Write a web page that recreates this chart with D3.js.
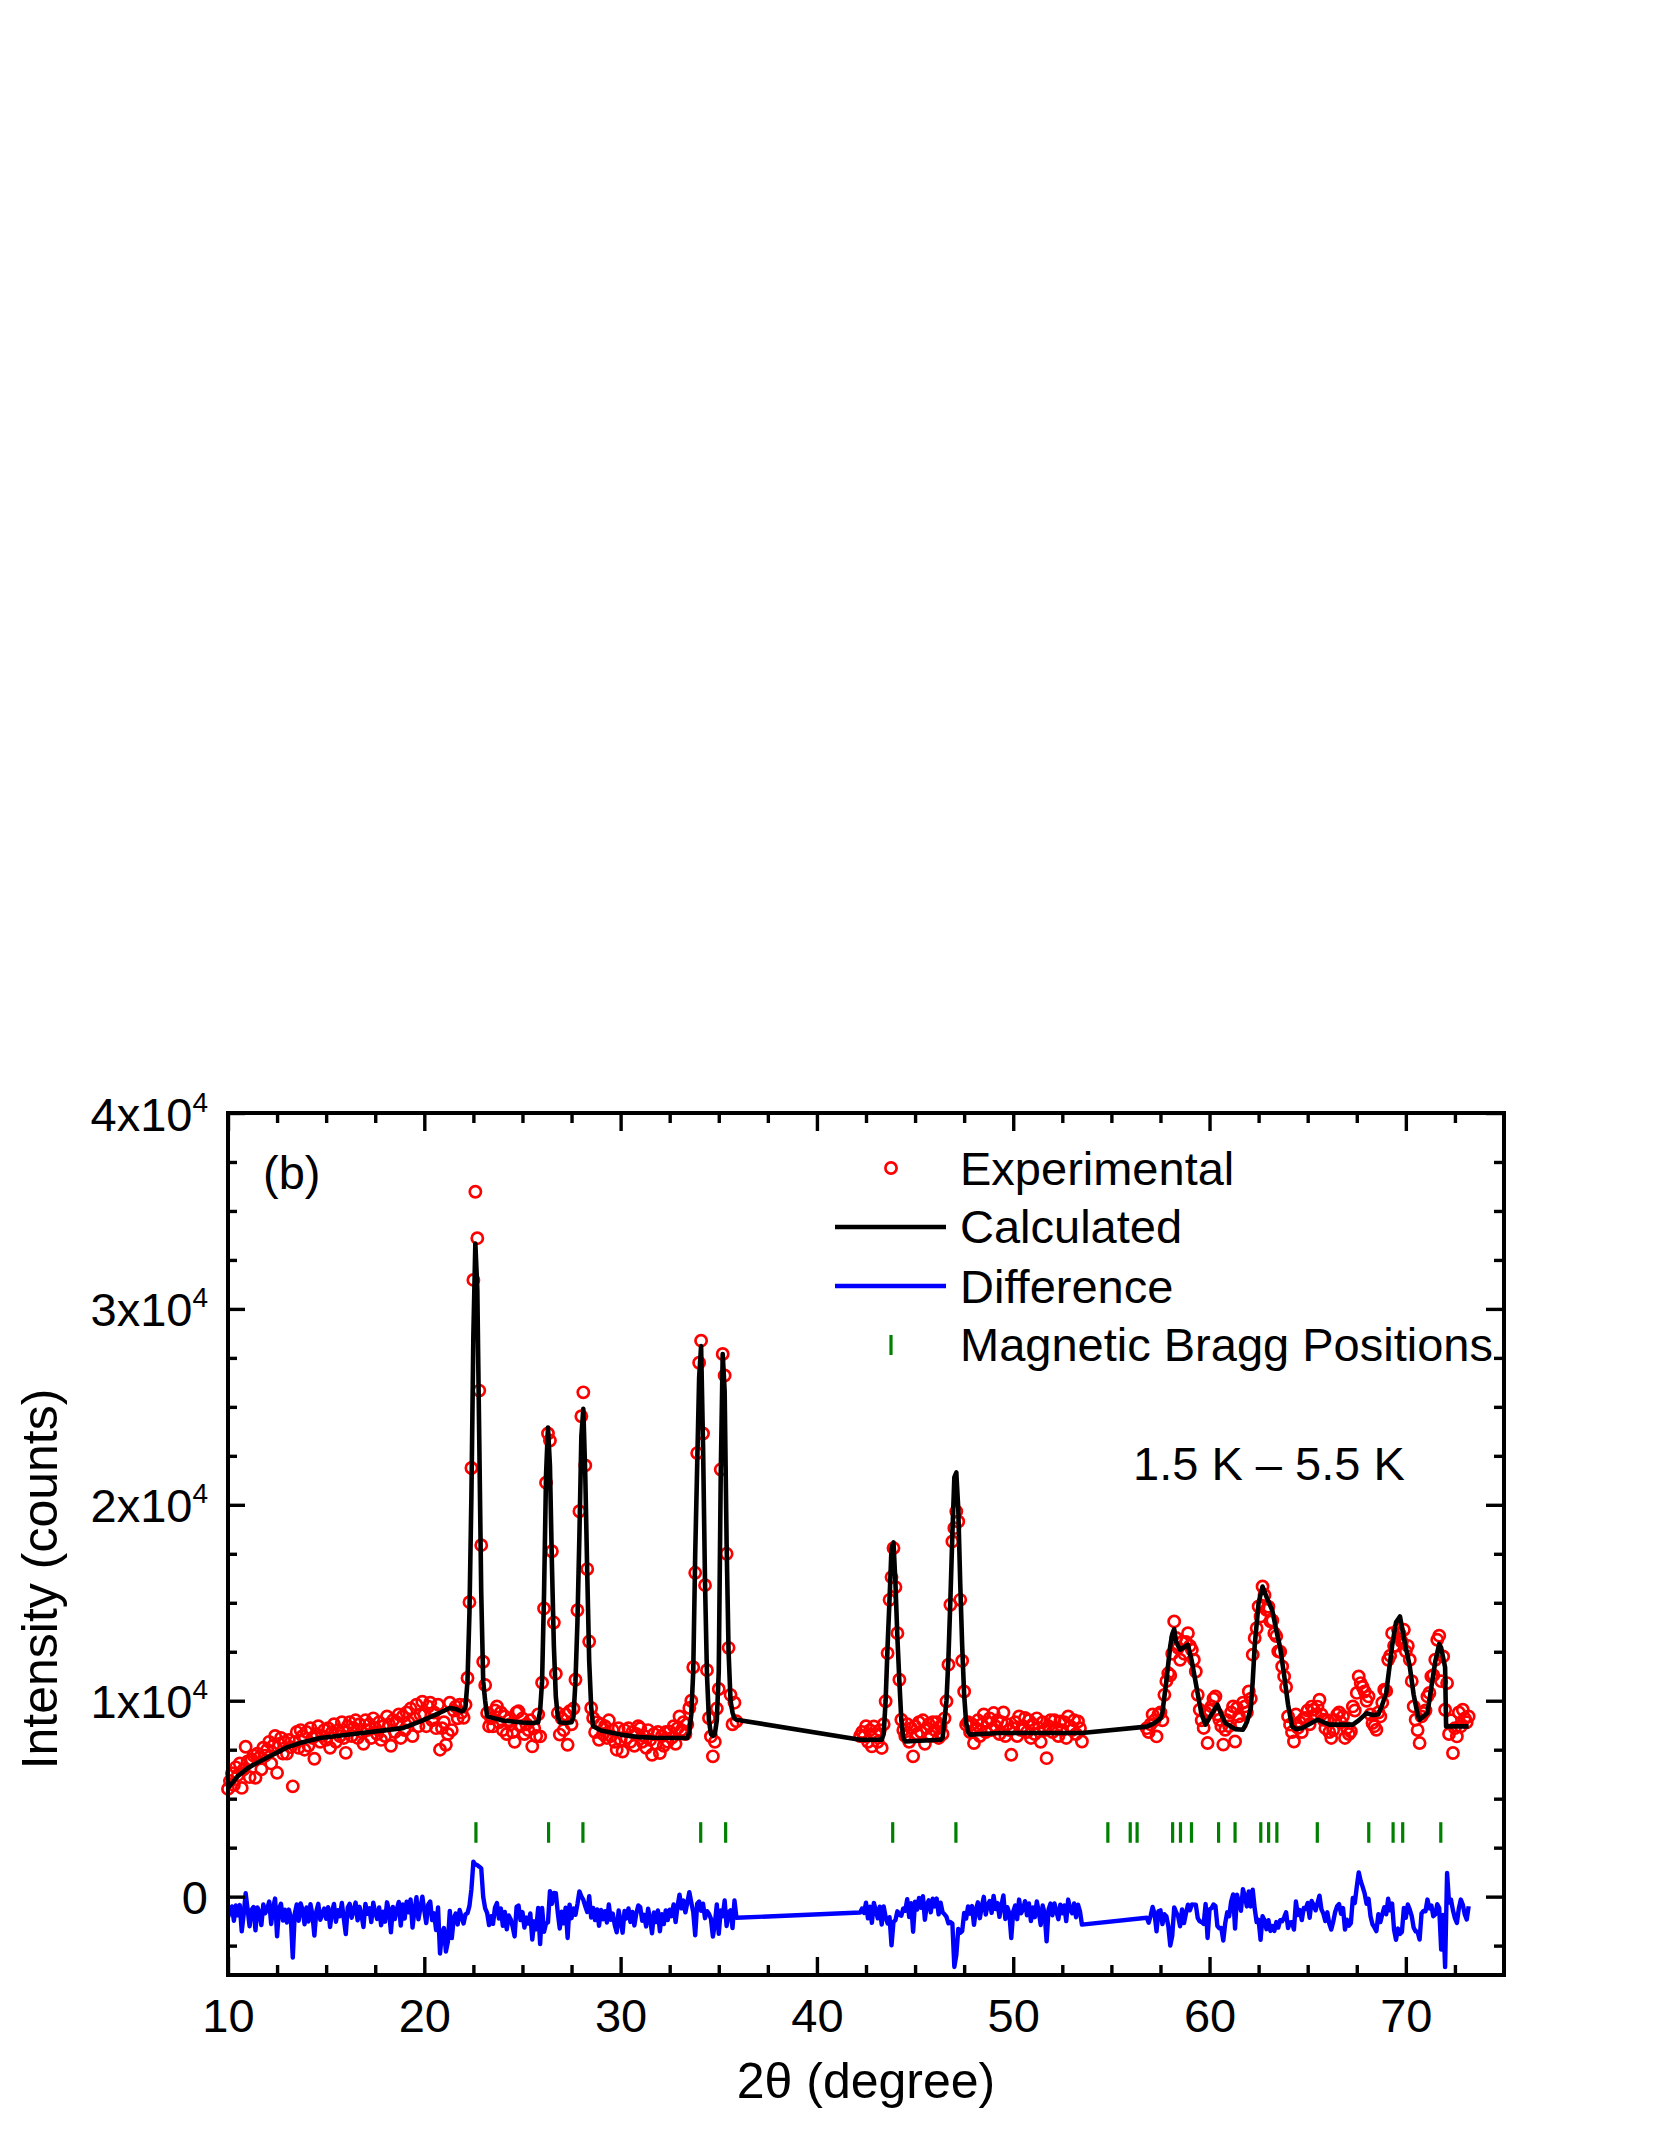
<!DOCTYPE html>
<html>
<head>
<meta charset="utf-8">
<script src="https://cdn.jsdelivr.net/npm/d3@7"></script>
<style>
  body { margin: 0; background: #fff; }
  svg { display: block; font-family: 'Liberation Sans', Arial, sans-serif; }
</style>
</head>
<body>
<svg id="chart"></svg>
<script>
// neutron powder pattern, 1.5 K - 5.5 K difference data
// three measured ranges, constant 2theta step
var scanStep = 0.1
var startA = 10.0
var startB = 42.2
var startC = 56.8

var expA = [
  5500, 5900, 6300, 5700, 6600, 6200, 6800, 5550, 6500, 7650,
  6900, 6100, 7000, 7200, 6070, 7300, 7100, 6500, 7600, 7200,
  7500, 7900, 6800, 7700, 8200, 6320, 7800, 8100, 7300, 7900,
  7300, 8000, 7630, 5630, 7900, 8400, 7600, 8500, 8200, 7500,
  8400, 7700, 8600, 8100, 7040, 8300, 8700, 7900, 8200, 8500,
  8000, 8600, 7600, 8400, 8800, 7900, 8500, 8200, 8900, 8100,
  7340, 8700, 8900, 8200, 8600, 9000, 8100, 8800, 8400, 7800,
  9000, 8500, 8800, 8100, 9100, 8600, 8300, 8900, 8000, 8700,
  8200, 9200, 8800, 7700, 9000, 8400, 8900, 9300, 8100, 9200,
  8500, 9400, 8900, 9600, 8200, 9100, 9800, 8700, 9300, 9950,
  9300, 8700, 9700, 9900, 9000, 9400, 8600, 9800, 7500, 8600,
  8900, 7750, 8300, 9900, 8500, 9500, 9700, 9100, 9800, 9400,
  9130, 9800, 11160, 15030, 21880, 31480, 35980, 33610, 25830, 17940,
  11990, 10800, 9370, 8700, 9100, 8690, 9500, 9710, 8900, 9400,
  8500, 9200, 8300, 9000, 8800, 8400, 7900, 9400, 9460, 8700,
  9100, 8300, 8800, 8500, 9000, 7670, 8600, 8200, 9300, 8180,
  10920, 14710, 21130, 23640, 23280, 17630, 13990, 11380, 9370, 8270,
  9100, 8500, 9300, 7750, 9460, 8800, 9600, 11070, 14620, 19670,
  24520, 25740, 22010, 16720, 13020, 9630, 9120, 8400, 8900, 8010,
  8800, 8300, 8700, 8100, 9000, 8200, 8500, 7900, 7500, 8600,
  8000, 7410, 8500, 8100, 8600, 7900, 8400, 7700, 8300, 8700,
  8600, 7900, 8200, 7600, 8500, 8000, 7240, 8300, 7800, 8400,
  7330, 8200, 7700, 8400, 7900, 8430, 8100, 8700, 7800, 8600,
  9200, 8500, 8900, 8300, 8800, 9630, 10000, 11710, 16530, 22640,
  27250, 28380, 23640, 15900, 11560, 9120, 8180, 7160, 7900, 9600,
  10600, 21800, 27700, 26600, 17500, 12700, 10300, 8800, 9900, 8950
]

var expB = [
  8200, 8400, 8180, 8700, 7900, 8500, 7670, 8690,
  8300, 7900, 8500, 7590, 8800, 9970, 12430, 15150, 16310, 17790,
  15800, 13450, 11070, 9030, 8500, 8200, 8800, 7900, 8600, 7160,
  8700, 8300, 8900, 8400, 9000, 7800, 8600, 8800, 8200, 8900,
  8500, 8900, 8100, 8700, 8300, 9100, 9970, 11840, 14900, 18130,
  18810, 19660, 19150, 15150, 12040, 10470, 8780, 8900, 8400, 8800,
  7840, 8600, 9000, 8200, 8800, 9300, 8400, 8900, 9100, 8500,
  9370, 8700, 9000, 8300, 8900, 9400, 8200, 8800, 8500, 7240,
  8600, 8900, 8200, 9200, 8500, 8700, 9120, 8400, 9000, 8100,
  8800, 8300, 9100, 8600, 7900, 8900, 8500, 7070, 8700, 9000,
  8400, 9000, 8600, 8200, 8940, 8500, 8900, 8100, 9200, 8700,
  8500, 9000, 8300, 8940, 8600, 7920
]

var expC = [
  8600, 8400,
  8800, 9300, 9000, 8180, 9300, 9400, 9000, 10300, 11000, 11400,
  11300, 12400, 14050, 13200, 12700, 12090, 13000, 12400, 13000, 13450,
  12800, 12600, 12090, 11490, 10300, 9540, 9000, 8610, 9400, 7840,
  9500, 9710, 10100, 10220, 9300, 9030, 8700, 7760, 8520, 9000,
  8700, 9400, 9710, 7920, 9630, 9200, 8800, 9900, 9710, 9400,
  10470, 10100, 12350, 13200, 13700, 14810, 14300, 15830, 15400, 14640,
  14800, 14050, 14100, 13450, 13300, 12520, 12500, 11750, 11240, 10700,
  9200, 8780, 8400, 7920, 9300, 8610, 8900, 8400, 9100, 9120,
  9500, 8800, 9700, 9540, 9300, 9700, 10050, 9300, 9030, 8600,
  9000, 8400, 8100, 8500, 9000, 9290, 9400, 8900, 9200, 8100,
  8600, 8300, 8430, 9710, 9500, 10400, 11240, 10900, 10700, 10470,
  10000, 10220, 9300, 8860, 8700, 8520, 9400, 9200, 9900, 10560,
  10500, 12090, 12300, 13450, 12800, 12800, 13620, 13400, 13000, 13620,
  12520, 12800, 12090, 11000, 9710, 9030, 8500, 7840, 9200, 9370,
  9500, 10220, 10400, 11240, 11300, 12090, 13110, 13320, 11000, 12260,
  9540, 10900, 8300, 9000, 7330, 8600, 8180, 9400, 8690, 9540,
  9100, 8900, 9200
]

// difference curve (obs - calc, shifted down by 1000)
var diffA = [
  -1050, -780, -500, -1230, -450, -950, -430, -1770, -900, 170,
  -650, -1510, -670, -530, -1720, -550, -800, -1450, -400, -850,
  -600, -250, -1400, -550, -100, -2030, -600, -360, -1220, -670,
  -1320, -660, -1070, -3110, -880, -400, -1230, -350, -680, -1410,
  -550, -1270, -390, -910, -1990, -750, -365, -1180, -900, -610,
  -1130, -540, -1550, -760, -370, -1280, -690, -1000, -320, -1130,
  -1910, -560, -370, -1080, -690, -300, -1210, -520, -940, -1550,
  -370, -880, -590, -1300, -310, -830, -1140, -550, -1460, -770,
  -1280, -290, -700, -1820, -530, -1140, -650, -270, -1480, -400,
  -1120, -260, -800, -140, -1580, -700, -30, -1160, -600, 0,
  -700, -1350, -400, -250, -1200, -850, -1700, -550, -2900, -1850,
  -1600, -2800, -2300, -730, -2120, -1100, -860, -1420, -680, -1050,
  -1370, -900, -840, -470, 380, 1780, 1640, 1610, 1530, 1440,
  -10, -600, -830, -1450, -1000, -1390, -560, -330, -1120, -600,
  -1490, -780, -1670, -960, -1150, -1540, -2030, -520, -450, -1200,
  -790, -1580, -1070, -1370, -860, -2190, -1260, -1670, -580, -2420,
  -580, -1790, -1370, -1310, 280, -370, 190, 180, -830, -1630,
  -770, -1360, -560, -2110, -410, -1100, -600, -930, -380, 270,
  20, -160, -490, -780, 20, -1070, -580, -1200, -650, -1490,
  -680, -1160, -740, -1320, -400, -1180, -860, -1440, -1820, -700,
  -1270, -1840, -730, -1110, -600, -1290, -780, -1470, -860, -450,
  -540, -1230, -930, -1520, -620, -1110, -1870, -810, -1300, -700,
  -1770, -900, -1400, -700, -1200, -670, -1000, -400, -1300, -500,
  100, -600, -200, -800, -300, 230, -300, -790, -1970, -360,
  -250, -720, -360, -1100, -740, -880, -1120, -2040, -1400, -400,
  -1900, -700, -1000, -200, -1500, -800, -700, -1600, -200, -1080
]

var diffB = [
  -810, -610, -830, -310, -1110, -510, -1340, -320,
  -710, -1110, -510, -1420, -500, -1030, -1370, -1050, -2490, -1290,
  -1200, -750, -930, -970, -600, -720, -130, -1040, -340, -1790,
  -260, -660, -70, -570, 20, -1180, -390, -190, -800, -100,
  -500, -100, -905, -310, -800, -900, -1030, -1360, -1300, -1370,
  -3590, -2990, -1650, -1850, -1760, -830, -1120, -500, -870, -480,
  -1440, -690, -290, -1100, -500, -10, -910, -420, -220, -830,
  40, -630, -330, -1030, -430, 60, -1140, -540, -840, -2110,
  -750, -450, -1150, -150, -850, -650, -230, -950, -350, -1250,
  -550, -1050, -250, -750, -1450, -450, -850, -2280, -650, -350,
  -950, -350, -750, -1150, -410, -850, -450, -1250, -150, -650,
  -850, -350, -1050, -410, -750, -1430
]

var diffC = [
  -1080, -1330,
  -980, -530, -860, -1770, -750, -700, -1400, -900, -1000, -1500,
  -2500, -2000, -550, -800, -1000, -1510, -650, -1350, -850, -410,
  -700, -400, -410, -410, -1100, -1260, -1300, -1390, -380, -2110,
  -650, -590, -400, -480, -1500, -1620, -1600, -2240, -1350, -800,
  -1000, -250, 110, -1630, 100, -320, -720, 380, 10, -500,
  270, -500, 350, -600, -1300, -1190, -2200, -1000, -1200, -1660,
  -1200, -1750, -1500, -1750, -1300, -1580, -1200, -1250, -1060, -800,
  -1600, -1320, -1300, -1680, -250, -940, -680, -1200, -580, -630,
  -320, -1080, -220, -420, -700, -330, 50, -650, -870, -1250,
  -800, -1380, -1680, -1280, -780, -490, -380, -880, -580, -1680,
  -1180, -1480, -1350, -70, -330, 500, 1240, 800, 500, 170,
  -370, -110, -1000, -1410, -1570, -1760, -900, -1300, -900, -540,
  -900, -110, -700, -350, -1700, -2200, -1630, -1900, -1800, -580,
  -1080, -400, -660, -1000, -1590, -1770, -1800, -2190, -850, -730,
  -750, -150, -600, -460, -1000, -910, -390, -580, -2700, -940,
  -3600, 1210, -300, -150, -700, -1100, -1340, -600, -150, -400,
  -900, -1170, -490
]

// calculated profile, [2theta, counts]
var calcA = [
  [10.0, 5550], [10.5, 6150], [11.0, 6550], [11.3, 6730], [12.0, 7100], [12.5, 7350],
  [13.0, 7620], [13.7, 7850], [14.7, 8100], [16.4, 8300], [18.9, 8600], [19.8, 8950],
  [20.5, 9250], [21.3, 9630], [21.6, 9580], [21.9, 9450], [22.0, 9500], [22.1, 9700],
  [22.2, 11000], [22.3, 14500], [22.4, 20500], [22.5, 28700], [22.6, 33340], [22.7, 31000],
  [22.8, 23300], [22.9, 15500], [23.0, 11000], [23.1, 10000], [23.2, 9200], [24.0, 8990],
  [25.0, 8890], [25.5, 8860], [25.8, 8900], [25.9, 9500], [26.0, 11000], [26.1, 15500],
  [26.2, 21500], [26.3, 23950], [26.4, 22000], [26.5, 17000], [26.6, 12800], [26.7, 10200],
  [26.8, 9200], [26.9, 8900], [27.2, 8860], [27.5, 8900], [27.6, 9200], [27.7, 11000],
  [27.8, 14000], [27.9, 18400], [28.0, 23500], [28.1, 24900], [28.2, 21500], [28.3, 16500],
  [28.4, 12000], [28.5, 9700], [28.6, 8700], [29.0, 8480], [30.0, 8270], [31.0, 8140],
  [31.7, 8110], [33.4, 8100], [33.5, 8400], [33.6, 9300], [33.7, 11500], [33.8, 17500],
  [33.9, 22000], [34.0, 26500], [34.1, 28100], [34.2, 23000], [34.3, 16000], [34.4, 11300],
  [34.5, 9000], [34.6, 8300], [34.7, 8200], [34.8, 8300], [34.9, 9000], [35.0, 11500],
  [35.1, 21500], [35.2, 27700], [35.3, 25800], [35.4, 18000], [35.5, 12500], [35.6, 10000],
  [35.7, 9400], [35.8, 9100], [35.9, 9030]
]

var calcB = [
  [42.2, 8010], [43.3, 8010], [43.4, 8300], [43.5, 10000], [43.6, 12800], [43.7, 15200],
  [43.8, 17800], [43.9, 18080], [44.0, 16000], [44.1, 13200], [44.2, 11000], [44.3, 9000],
  [44.4, 8100], [44.5, 7920], [46.3, 8010], [46.4, 8100], [46.5, 9000], [46.6, 10000],
  [46.7, 12200], [46.8, 15200], [46.9, 18500], [47.0, 21400], [47.1, 21650], [47.2, 19800],
  [47.3, 16000], [47.4, 12800], [47.5, 10300], [47.6, 8900], [47.7, 8400], [47.8, 8270],
  [49.3, 8350], [53.5, 8350]
]

var calcC = [
  [56.8, 8680], [57.2, 8860], [57.5, 9100], [57.6, 9400], [57.8, 11000], [58.0, 12800],
  [58.1, 13400], [58.2, 13650], [58.3, 13000], [58.5, 12600], [58.9, 12860], [59.1, 12000],
  [59.3, 10900], [59.5, 9800], [59.6, 9300], [59.8, 8780], [60.1, 9300], [60.4, 9800],
  [60.6, 9300], [60.8, 8870], [61.3, 8550], [61.7, 8520], [61.9, 8900], [62.1, 9600],
  [62.2, 11000], [62.3, 12800], [62.5, 15000], [62.7, 15830], [62.9, 15300], [63.2, 14600],
  [63.4, 13600], [63.6, 12700], [63.8, 11300], [64.0, 9800], [64.2, 8700], [64.4, 8550],
  [64.7, 8600], [65.5, 9030], [66.1, 8780], [67.3, 8780], [67.6, 9000], [68.0, 9370],
  [68.3, 9270], [68.6, 9300], [68.8, 9800], [69.0, 10400], [69.3, 12800], [69.5, 14000],
  [69.7, 14300], [69.9, 13200], [70.2, 11750], [70.4, 10300], [70.6, 9300], [70.7, 9030],
  [71.1, 9370], [71.3, 10700], [71.5, 12000], [71.7, 12900], [71.8, 12700], [72.0, 11700],
  [72.05, 8690], [73.2, 8690]
]

var braggPositions = [
  22.63, 26.33, 28.08, 34.08, 35.35, 43.86, 47.08, 54.82, 55.96, 56.31, 58.12, 58.52,
  59.08, 60.46, 61.30, 62.61, 63.01, 63.43, 65.49, 68.11, 69.35, 69.84, 71.78
]
var braggTick = [2750, 3800]

var xMajor = [10, 20, 30, 40, 50, 60, 70]
var xMinor = [12.5, 15, 17.5, 22.5, 25, 27.5, 32.5, 35, 37.5, 42.5, 45, 47.5, 52.5, 55, 57.5, 62.5, 65, 67.5, 72.5]
var yMajor = [0, 10000, 20000, 30000, 40000]
var yMinor = [-2500, 2500, 5000, 7500, 12500, 15000, 17500, 22500, 25000, 27500, 32500, 35000, 37500]

var legendItems = ['Experimental', 'Calculated', 'Difference', 'Magnetic Bragg Positions']

// pair each scan value with its 2theta
function scan (start, values) {
  return values.map(function (v, i) { return [+(start + i * scanStep).toFixed(2), v] })
}

var experimental = scan(startA, expA).concat(scan(startB, expB), scan(startC, expC))
var difference = scan(startA, diffA).concat(scan(startB, diffB), scan(startC, diffC))
var calculated = calcA.concat(calcB, calcC)

// set the dimensions and margins of the graph
var W = 1661
var H = 2149
var margin = {top: 1113, right: 157, bottom: 174, left: 228}
var width = W - margin.left - margin.right
var height = H - margin.top - margin.bottom

var x = d3.scaleLinear().domain([10, 75]).range([0, width])
var y = d3.scaleLinear().domain([-4000, 40000]).range([height, 0])

var svg = d3.select('#chart')
    .attr('width', W)
    .attr('height', H)

svg.append('rect').attr('width', W).attr('height', H).attr('fill', '#fff')

var g = svg.append('g')
    .attr('transform', 'translate(' + margin.left + ',' + margin.top + ')')

// experimental points
g.append('g')
  .selectAll('circle')
    .data(experimental)
  .enter().append('circle')
    .attr('cx', function (d) { return x(d[0]) })
    .attr('cy', function (d) { return y(d[1]) })
    .attr('r', 5.6)
    .attr('fill', 'none')
    .attr('stroke', '#ff0000')
    .attr('stroke-width', 2.7)

var line = d3.line()
    .x(function (d) { return x(d[0]) })
    .y(function (d) { return y(d[1]) })

// calculated profile
g.append('path')
    .datum(calculated)
    .attr('d', line)
    .attr('fill', 'none')
    .attr('stroke', '#000')
    .attr('stroke-width', 4.6)
    .attr('stroke-linejoin', 'round')

// difference
g.append('path')
    .datum(difference)
    .attr('d', line)
    .attr('fill', 'none')
    .attr('stroke', '#0000ff')
    .attr('stroke-width', 4.4)
    .attr('stroke-linejoin', 'round')

// bragg positions
g.append('g')
  .selectAll('line')
    .data(braggPositions)
  .enter().append('line')
    .attr('x1', function (d) { return x(d) })
    .attr('x2', function (d) { return x(d) })
    .attr('y1', y(braggTick[0]))
    .attr('y2', y(braggTick[1]))
    .attr('stroke', '#008000')
    .attr('stroke-width', 3.2)

// axes: ticks point inward on all four sides
function styleAxis (sel) {
  sel.select('.domain').remove()
  sel.selectAll('.tick line').attr('stroke', '#000').attr('stroke-width', 3.4)
}

g.append('g')
    .attr('transform', 'translate(0,' + height + ')')
    .call(d3.axisBottom(x).tickValues(xMajor).tickSize(-18).tickFormat(d3.format('d')))
    .call(styleAxis)
    .call(function (s) {
      s.selectAll('.tick text')
        .attr('y', 57).attr('dy', null)
        .attr('font-size', 47).attr('font-family', 'Liberation Sans, Arial, sans-serif').attr('fill', '#000')
    })
g.append('g')
    .attr('transform', 'translate(0,' + height + ')')
    .call(d3.axisBottom(x).tickValues(xMinor).tickSize(-10).tickFormat(''))
    .call(styleAxis)
g.append('g')
    .call(d3.axisTop(x).tickValues(xMajor).tickSize(-18).tickFormat(''))
    .call(styleAxis)
g.append('g')
    .call(d3.axisTop(x).tickValues(xMinor).tickSize(-10).tickFormat(''))
    .call(styleAxis)

g.append('g')
    .call(d3.axisLeft(y).tickValues(yMajor).tickSize(-17).tickFormat(''))
    .call(styleAxis)
    .call(function (s) {
      s.selectAll('.tick text').each(function (d) {
        var t = d3.select(this)
          .attr('x', -20).attr('y', 17).attr('dy', null)
          .attr('text-anchor', 'end')
          .attr('font-size', 47).attr('font-family', 'Liberation Sans, Arial, sans-serif').attr('fill', '#000')
        if (d === 0) {
          t.text('0')
        } else {
          t.append('tspan').text((d / 10000) + 'x10')
          t.append('tspan').attr('font-size', 28).attr('dy', -19).text('4')
        }
      })
    })
g.append('g')
    .call(d3.axisLeft(y).tickValues(yMinor).tickSize(-9).tickFormat(''))
    .call(styleAxis)
g.append('g')
    .attr('transform', 'translate(' + width + ',0)')
    .call(d3.axisRight(y).tickValues(yMajor).tickSize(-18).tickFormat(''))
    .call(styleAxis)
g.append('g')
    .attr('transform', 'translate(' + width + ',0)')
    .call(d3.axisRight(y).tickValues(yMinor).tickSize(-10).tickFormat(''))
    .call(styleAxis)

// frame
g.append('rect')
    .attr('width', width)
    .attr('height', height)
    .attr('fill', 'none')
    .attr('stroke', '#000')
    .attr('stroke-width', 4)

// axis titles
svg.append('text')
    .attr('x', margin.left + width / 2)
    .attr('y', 2098)
    .attr('text-anchor', 'middle')
    .attr('font-size', 50)
    .text('2θ (degree)')

svg.append('text')
    .attr('transform', 'translate(57,1579) rotate(-90)')
    .attr('text-anchor', 'middle')
    .attr('font-size', 50)
    .text('Intensity (counts)')

// panel label and temperature note
svg.append('text').attr('x', 263).attr('y', 1189).attr('font-size', 47).text('(b)')
svg.append('text').attr('x', 1133).attr('y', 1480).attr('font-size', 47).text('1.5 K – 5.5 K')

// legend
var legend = svg.append('g')
var rows = [1185, 1243, 1303, 1361]
legend.selectAll('text')
    .data(legendItems)
  .enter().append('text')
    .attr('x', 960)
    .attr('y', function (d, i) { return rows[i] })
    .attr('font-size', 47)
    .text(function (d) { return d })
legend.append('circle')
    .attr('cx', 891).attr('cy', 1168).attr('r', 5.6)
    .attr('fill', 'none').attr('stroke', '#ff0000').attr('stroke-width', 2.7)
legend.append('line')
    .attr('x1', 835).attr('x2', 946).attr('y1', 1227).attr('y2', 1227)
    .attr('stroke', '#000').attr('stroke-width', 4.6)
legend.append('line')
    .attr('x1', 835).attr('x2', 946).attr('y1', 1286).attr('y2', 1286)
    .attr('stroke', '#0000ff').attr('stroke-width', 4.4)
legend.append('line')
    .attr('x1', 891).attr('x2', 891).attr('y1', 1335).attr('y2', 1355)
    .attr('stroke', '#008000').attr('stroke-width', 3.2)
</script>
</body>
</html>
